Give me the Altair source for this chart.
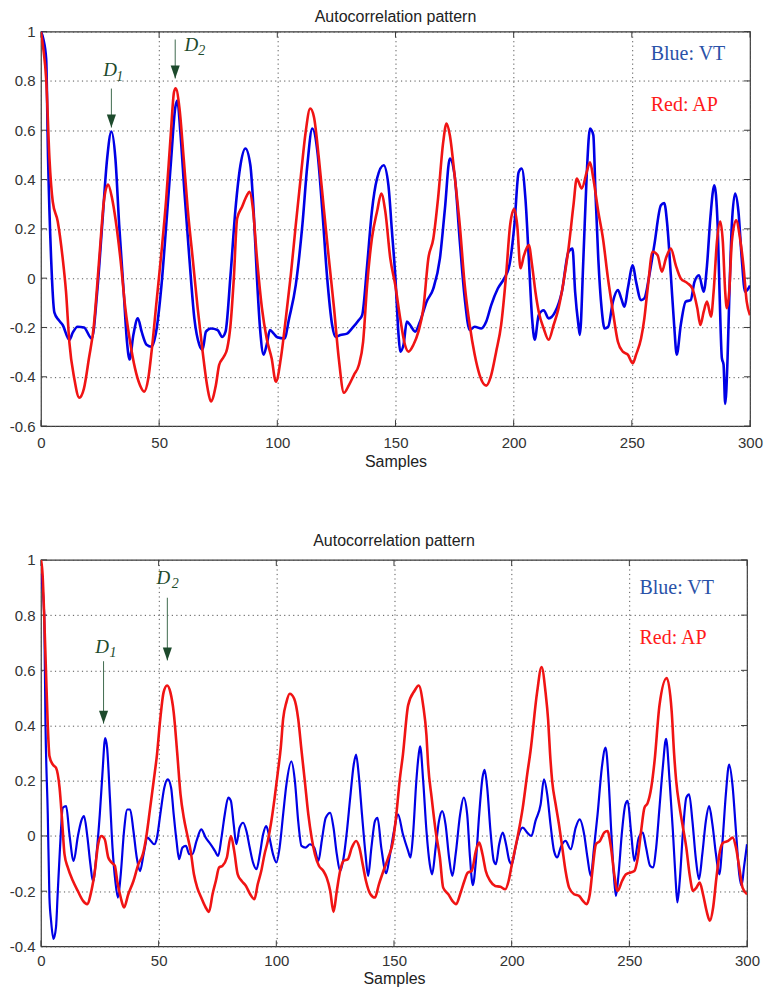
import altair as alt
import pandas as pd

TITLE = "Autocorrelation pattern"
XLABEL = "Samples"
X_TICKS = [0, 50, 100, 150, 200, 250, 300]
TOP_Y_TICKS = [-0.6, -0.4, -0.2, 0, 0.2, 0.4, 0.6, 0.8, 1]
BOT_Y_TICKS = [-0.4, -0.2, 0, 0.2, 0.4, 0.6, 0.8, 1]

# ---------------- top panel: VT (blue) ----------------
top_vt_x = [0, 1, 2.2, 3, 4.3, 5.7, 7.5, 9.2, 12, 13.5, 15.5, 18.2, 21.5, 23.8, 25.9, 28, 29.8, 31.5, 33.1, 35,
            36.4, 37.5, 39.1, 41, 42.6, 44.7, 46.8, 48.5, 51, 53, 55.1, 56.8, 57.7, 59, 60.7, 62.8, 64.9, 67, 68.4,
            69.8, 71.9, 74.7, 76.7, 78.1, 80.2, 82.3, 84.4, 86.5, 88.6, 90, 91.4, 92.8, 94.2, 95.5, 96.9, 98.5, 100,
            103, 105, 107.8, 110.6, 112.7, 114.8, 117, 119, 121, 123.2, 124.6, 126.7, 129.5, 131.6, 134.5, 135.9,
            138, 140, 142.2, 145, 147, 148.5, 149.9, 151.3, 152, 153.4, 154.8, 156.2, 158.3, 160.4, 163.2, 166,
            168.8, 170.9, 173, 175, 177.2, 179.3, 181.4, 183.5, 186.3, 188.4, 190.5, 193.3, 196, 198.2, 200.3,
            202.1, 203.4, 205, 206.4, 207.8, 208.9, 210.6, 212.7, 214.8, 217.6, 220.4, 223.2, 224.9, 226, 227.4,
            228, 229.5, 230.9, 232.3, 233.7, 234.6, 235.8, 237.2, 238.5, 240, 242, 244.1, 245.5, 246.9, 248.3,
            250.4, 251.8, 253.9, 255.3, 257.4, 259.5, 262.3, 263.7, 265, 266.5, 267.9, 269, 270.7, 272.8, 274.9,
            276.5, 278.4, 280.4, 281.8, 283.2, 284.9, 286.3, 287.1, 288.1, 288.8, 289.5, 290.5, 291.3, 292.3,
            293.7, 295.1, 296.5, 297.9, 299.3, 300]
top_vt_y = [1.0, 0.97, 0.89, 0.49, 0.08, -0.14, -0.17, -0.19, -0.25, -0.22, -0.197, -0.2, -0.245, -0.055, 0.215,
            0.485, 0.595, 0.485, 0.215, -0.055, -0.258, -0.33, -0.23, -0.163, -0.217, -0.27, -0.278, -0.23, -0.028,
            0.215, 0.485, 0.69, 0.72, 0.59, 0.35, 0.08, -0.163, -0.27, -0.29, -0.217, -0.204, -0.21, -0.238, -0.217,
            0.012, 0.28, 0.458, 0.526, 0.458, 0.27, -0.001, -0.217, -0.31, -0.27, -0.21, -0.225, -0.24, -0.245,
            -0.163, -0.028, 0.215, 0.458, 0.607, 0.51, 0.28, 0.012, -0.19, -0.238, -0.231, -0.225, -0.204, -0.17,
            -0.15, 0.052, 0.27, 0.404, 0.458, 0.377, 0.19, 0.012, -0.231, -0.298, -0.27, -0.176, -0.19, -0.217,
            -0.176, -0.095, -0.042, 0.08, 0.28, 0.485, 0.418, 0.15, -0.082, -0.21, -0.197, -0.204, -0.176, -0.109,
            -0.042, -0.001, 0.052, 0.215, 0.43, 0.445, 0.32, 0.08, -0.163, -0.25, -0.15, -0.13, -0.163, -0.136,
            -0.055, 0.107, 0.12, -0.055, -0.19, -0.23, 0.08, 0.418, 0.607, 0.58, 0.35, 0.08, -0.122, -0.204, -0.197,
            -0.095, -0.048, -0.082, -0.116, -0.042, 0.052, -0.015, -0.089, -0.082, 0.012, 0.134, 0.296, 0.305,
            0.215, 0.012, -0.19, -0.31, -0.19, -0.095, -0.089, -0.015, 0.012, -0.055, 0.052, 0.242, 0.377, 0.215,
            -0.055, -0.325, -0.35, -0.51, -0.325, -0.055, 0.215, 0.343, 0.27, 0.08, -0.055, -0.042, -0.03]

# ---------------- top panel: AP (red) ----------------
top_ap_x = [0, 1, 2.2, 3.6, 5, 7.1, 9.2, 10.6, 12, 14.1, 16.2, 18.2, 20.3, 22.4, 23.8, 25.2, 26.6, 28.4, 30.1,
            31.5, 33.6, 35.7, 37.7, 39.8, 41.9, 43.7, 45.4, 46.8, 48.9, 51, 53, 54.9, 56.3, 57, 58.6, 60.4, 62.1,
            64.2, 66.3, 68.4, 70.5, 71.9, 74, 75.4, 77.4, 78.8, 80.2, 81.6, 83, 85.1, 87.2, 88.2, 89.7, 91.4, 93.5,
            95.5, 97.6, 99.4, 101.5, 103.6, 105.7, 107.8, 110, 112, 113.9, 115.5, 117.6, 119.7, 121.8, 124, 126,
            128.2, 130.3, 132.4, 134.5, 136.3, 138, 140, 142.2, 144, 145.7, 147.8, 149.9, 152, 154, 155.5, 157.6,
            159.7, 161.8, 163.9, 166, 168, 170.2, 171.6, 173, 175, 177.2, 179.3, 181.4, 183.5, 185.6, 188.4, 190.5,
            192.6, 194.7, 196.8, 198.5, 200.2, 201.5, 202.9, 204.3, 206.4, 207.8, 209.2, 210.6, 212.7, 214.8,
            216.9, 219, 221.1, 223.2, 225.3, 226.7, 228.8, 230.9, 232.3, 233.7, 235.8, 237.8, 239.9, 242, 244.1,
            246.2, 248.3, 250.4, 251.8, 253.9, 255.3, 256.7, 258.8, 260.9, 262.7, 264.4, 266.5, 268.6, 270.7,
            273.5, 275.6, 277.7, 279, 280.4, 281.8, 283.5, 284.6, 286, 287.4, 288.5, 289.5, 290.2, 291.2, 292.3,
            294.1, 295.8, 297.2, 298.6, 300]
top_ap_y = [1.0, 0.93, 0.81, 0.485, 0.31, 0.23, 0.08, -0.055, -0.258, -0.407, -0.485, -0.447, -0.325, -0.19,
            -0.028, 0.147, 0.31, 0.38, 0.323, 0.242, 0.08, -0.122, -0.258, -0.366, -0.434, -0.46, -0.407, -0.298,
            -0.095, 0.107, 0.323, 0.58, 0.755, 0.77, 0.69, 0.485, 0.28, 0.08, -0.122, -0.298, -0.447, -0.5,
            -0.434, -0.352, -0.318, -0.285, -0.19, -0.001, 0.242, 0.29, 0.337, 0.35, 0.28, 0.08, -0.122, -0.245,
            -0.325, -0.42, -0.325, -0.163, 0.012, 0.215, 0.418, 0.593, 0.688, 0.654, 0.485, 0.28, 0.08, -0.122,
            -0.325, -0.465, -0.434, -0.393, -0.352, -0.258, -0.028, 0.16, 0.27, 0.343, 0.27, 0.08, -0.028, -0.163,
            -0.27, -0.298, -0.27, -0.217, -0.122, 0.08, 0.16, 0.323, 0.553, 0.627, 0.58, 0.418, 0.215, -0.028,
            -0.19, -0.31, -0.393, -0.436, -0.393, -0.298, -0.19, 0.012, 0.215, 0.28, 0.215, 0.04, 0.09, 0.134,
            0.052, -0.055, -0.136, -0.204, -0.25, -0.19, -0.122, -0.015, 0.12, 0.296, 0.404, 0.364, 0.43, 0.47,
            0.404, 0.27, 0.16, -0.001, -0.136, -0.258, -0.298, -0.31, -0.345, -0.31, -0.245, -0.163, -0.042,
            0.107, 0.093, 0.026, 0.08, 0.12, 0.052, -0.001, -0.02, -0.042, -0.122, -0.19, -0.136, -0.095, -0.156,
            -0.055, 0.147, 0.23, 0.147, -0.055, -0.122, -0.055, 0.147, 0.235, 0.16, 0.052, -0.095, -0.15]

# ---------------- bottom panel: VT (blue) ----------------
bot_vt_x = [0, 1.4, 1.9, 2.9, 3.6, 4.3, 5.3, 6.4, 7.1, 8.1, 9.3, 10.7, 12.1, 13.9, 15.7, 17.1, 18.3, 19.6, 21,
            22.1, 23.6, 25, 26.1, 27.3, 28.1, 29.3, 30.4, 31.6, 32.7, 33.9, 35.3, 36.7, 37.9, 39.3, 40.7, 42.1,
            43.6, 45.3, 46.7, 48.1, 49.3, 50.7, 52.4, 53.9, 55.3, 56.4, 57.6, 58.7, 60.1, 61.6, 63, 64.3, 66.1,
            68.1, 70, 72.1, 73.9, 75.3, 76.7, 78.1, 79.6, 80.7, 81.9, 83, 84.4, 85.9, 87.3, 88.7, 90.1, 91.6, 93,
            94.4, 95.7, 97.1, 98.6, 100, 101.4, 102.9, 104.3, 106.4, 107.9, 109.3, 110.7, 112.4, 114.3, 116.1,
            117.9, 119.3, 121, 122.9, 124.3, 125.7, 127.1, 128.6, 130, 131.4, 132.9, 133.9, 135, 136.4, 137.9,
            139, 140.4, 141.9, 143, 144.6, 146.7, 148.1, 150, 151.7, 153.8, 156, 157, 158.1, 159.5, 160.5, 161.1,
            162.4, 163.8, 165.2, 166.2, 167.7, 169.1, 170.5, 171.9, 173.4, 174.8, 176.2, 178.1, 179.6, 181.1,
            182.3, 183.5, 184.8, 186.2, 187.6, 188.5, 189.6, 191, 192.4, 193.3, 194.7, 196.2, 197.6, 199, 200.1,
            201.6, 203, 204.7, 206.6, 208.4, 210.1, 212.3, 213.7, 215.1, 216.5, 218, 219.4, 220.8, 222.9, 225.1,
            227.2, 228.9, 230.8, 232.2, 233.6, 235, 236.5, 238.3, 239.9, 241.2, 242.3, 243.4, 244.3, 245.4,
            246.9, 248.3, 249.3, 250.7, 252.1, 254, 255.7, 257.1, 258.8, 260, 261.4, 262.8, 264.2, 265.6, 267.1,
            268.5, 269.7, 270.4, 271.4, 272.8, 274.2, 275.4, 276.8, 278.2, 279.6, 281, 282.5, 283.9, 285.3,
            286.8, 288.2, 289.6, 291, 292.4, 293.8, 295.3, 296.7, 297.7, 298.7, 300]
bot_vt_y = [0.95, 0.8, 0.42, 0.078, -0.223, -0.307, -0.373, -0.33, -0.21, -0.042, 0.102, 0.108, 0.006, -0.09, 0.0,
            0.054, 0.072, 0.006, -0.102, -0.165, -0.066, 0.078, 0.223, 0.355, 0.32, 0.139, -0.042, -0.163, -0.223,
            -0.139, 0.018, 0.096, 0.096, 0.018, -0.078, -0.127, -0.066, -0.006, -0.018, -0.03, -0.006, 0.078,
            0.175, 0.205, 0.175, 0.078, -0.018, -0.084, -0.042, -0.036, -0.066, -0.066, -0.018, 0.024, -0.006,
            -0.03, -0.054, -0.072, -0.006, 0.078, 0.139, 0.127, 0.042, -0.03, 0.03, 0.048, 0.018, -0.042, -0.096,
            -0.12, -0.066, 0.006, 0.036, -0.006, -0.066, -0.096, -0.042, 0.078, 0.187, 0.27, 0.199, 0.054, -0.036,
            -0.042, -0.03, -0.042, -0.09, -0.018, 0.066, 0.084, 0.03, -0.066, -0.127, -0.078, 0.018, 0.139, 0.259,
            0.295, 0.223, 0.078, -0.066, -0.145, -0.042, 0.054, 0.066, -0.042, -0.135, -0.078, 0.018, 0.078,
            0.006, -0.054, -0.078, 0.006, 0.2, 0.295, 0.325, 0.2, 0.018, -0.102, -0.139, -0.042, 0.054, 0.09,
            0.042, -0.078, -0.145, -0.066, 0.078, 0.139, 0.078, -0.078, -0.178, -0.09, 0.078, 0.211, 0.24, 0.175,
            0.018, -0.09, -0.102, -0.03, 0.012, -0.03, -0.09, -0.102, -0.042, 0.006, 0.03, 0.012, 0.0, 0.054,
            0.114, 0.205, 0.151, 0.042, -0.054, -0.078, -0.042, -0.018, -0.048, 0.03, 0.06, 0.006, -0.078,
            -0.145, -0.042, 0.078, 0.247, 0.32, 0.2, 0.018, -0.139, -0.217, -0.139, 0.018, 0.114, 0.127, 0.018,
            -0.09, -0.006, 0.012, -0.042, -0.108, -0.114, -0.042, 0.102, 0.247, 0.352, 0.2, 0.018, -0.163, -0.241,
            -0.163, 0.018, 0.139, 0.151, 0.054, -0.078, -0.157, -0.066, 0.054, 0.108, 0.042, -0.066, -0.139,
            -0.018, 0.151, 0.259, 0.187, 0.018, -0.139, -0.18, -0.114, -0.03]

# ---------------- bottom panel: AP (red) ----------------
bot_ap_x = [0, 0.7, 1.4, 2.1, 2.9, 3.6, 5, 6.4, 7.9, 9, 10, 11.4, 13.6, 15.7, 17.9, 19.6, 21.4, 22.9, 24.3,
            25.7, 27.1, 28.6, 30, 31.4, 32.4, 33.9, 35.3, 37.1, 39.3, 41.4, 43.3, 44.7, 46.4, 47.9, 49.3, 50.7,
            52.1, 53.6, 55, 56.4, 57.9, 59.3, 60.7, 62.1, 63.6, 65, 66.4, 68.1, 70, 71.4, 72.9, 74.3, 75.7, 77.1,
            79, 80.7, 82.1, 83.6, 85.3, 87.1, 88.9, 90.7, 92.1, 93.6, 95, 96.4, 97.9, 99.3, 100.7, 101.9, 102.9,
            104.3, 105.7, 107.6, 109.3, 110.7, 112.1, 113.6, 115, 116.4, 118.1, 120, 121.4, 122.9, 124.3, 125.7,
            127.1, 128.6, 130.4, 132.1, 133.9, 135.3, 136.7, 138.1, 140, 141.9, 143.6, 145.5, 147.5, 149.6, 151,
            152.4, 153.8, 156, 158.8, 160.5, 162.4, 163.8, 164.5, 166, 167.7, 169.5, 170.9, 173.1, 174.8, 176.4,
            178.1, 179.9, 181.3, 183, 184.8, 186.2, 187.6, 189, 190.9, 193, 195.2, 197.3, 198.7, 200.1, 201.6,
            203, 204.7, 206.6, 208, 210.8, 212.7, 214.4, 215.5, 216.3, 217.2, 218.7, 220.1, 221.5, 222.9, 224.4,
            226.5, 228.6, 230.3, 231.8, 233.2, 234.3, 235.8, 237.5, 239.3, 240.7, 242.2, 243.6, 245, 246.9, 248.6,
            250.3, 252.1, 253.6, 255, 256.4, 257.8, 259.3, 260.7, 262.8, 265.9, 268, 269, 269.9, 271.4, 272.8,
            274.2, 275.6, 277.1, 278.5, 279.9, 281.3, 282.8, 284.2, 285.6, 287, 288.5, 289.9, 292, 293.9, 295.3,
            296.7, 298.1, 300]
bot_ap_y = [1.0, 0.945, 0.79, 0.606, 0.4, 0.29, 0.259, 0.247, 0.175, 0.054, -0.066, -0.114, -0.163, -0.2, -0.235,
            -0.247, -0.2, -0.127, -0.03, 0.0, -0.012, -0.078, -0.096, -0.108, -0.163, -0.223, -0.259, -0.211,
            -0.163, -0.102, -0.066, -0.006, 0.102, 0.2, 0.295, 0.424, 0.52, 0.545, 0.52, 0.448, 0.3, 0.151, 0.066,
            0.006, -0.054, -0.139, -0.187, -0.223, -0.259, -0.275, -0.211, -0.163, -0.114, -0.108, -0.078, 0.0,
            -0.054, -0.139, -0.163, -0.181, -0.211, -0.229, -0.175, -0.127, -0.066, -0.018, 0.054, 0.139, 0.235,
            0.32, 0.424, 0.485, 0.515, 0.497, 0.424, 0.31, 0.2, 0.078, -0.006, -0.066, -0.108, -0.127, -0.151,
            -0.199, -0.275, -0.199, -0.127, -0.09, -0.084, -0.042, -0.018, -0.042, -0.102, -0.163, -0.211, -0.223,
            -0.175, -0.127, -0.08, -0.018, 0.078, 0.2, 0.295, 0.473, 0.527, 0.545, 0.473, 0.364, 0.259, 0.139,
            0.018, -0.078, -0.187, -0.211, -0.235, -0.247, -0.211, -0.163, -0.133, -0.127, -0.054, -0.024, -0.066,
            -0.127, -0.163, -0.181, -0.184, -0.193, -0.163, -0.102, -0.042, 0.018, 0.102, 0.223, 0.307, 0.52,
            0.612, 0.52, 0.42, 0.3, 0.2, 0.114, 0.042, -0.042, -0.127, -0.187, -0.211, -0.217, -0.235, -0.247,
            -0.211, -0.127, -0.03, -0.018, 0.012, 0.018, -0.042, -0.139, -0.199, -0.163, -0.139, -0.133, -0.127,
            -0.078, 0.018, 0.102, 0.12, 0.175, 0.27, 0.473, 0.572, 0.45, 0.3, 0.2, 0.102, 0.03, -0.042, -0.139,
            -0.199, -0.187, -0.169, -0.211, -0.271, -0.307, -0.259, -0.151, -0.054, -0.024, -0.018, -0.006,
            -0.042, -0.114, -0.187, -0.211]

# ---------------- annotations (data coordinates) ----------------
LEGEND_TEXT = ["Blue: VT", "Red: AP"]
TOP_LEGEND_X = [258, 258]
TOP_LEGEND_Y = [0.884, 0.68]
BOT_LEGEND_X = [254.3, 254.3]
BOT_LEGEND_Y = [0.877, 0.696]

D_MAIN = ["D", "D"]
D_SUB = ["1", "2"]
TOP_D_X = [26.4, 60.7]
TOP_D_Y = [0.818, 0.92]
TOP_SUB_X = [31.9, 66.6]
TOP_SUB_Y = [0.801, 0.905]
TOP_ARROW_X = [29.8, 56.8]
TOP_ARROW_TOP = [0.769, 0.968]
TOP_ARROW_TIP = [0.611, 0.81]

BOT_D_X = [23.1, 49.1]
BOT_D_Y = [0.664, 0.911]
BOT_SUB_X = [29.1, 55.6]
BOT_SUB_Y = [0.65, 0.899]
BOT_ARROW_X = [26.6, 53.7]
BOT_ARROW_TOP = [0.633, 0.863]
BOT_ARROW_TIP = [0.407, 0.636]

BLUE = "#0000e6"
RED = "#f01414"
BLUE_TXT = "#2a52a8"
RED_TXT = "#ff1a1a"
GREEN = "#1d4a2c"
ARROW_LINE = "#3f6a4e"
FRAME = "#3a3a3a"
SANS = "Liberation Sans"
SERIF = "Liberation Serif"


def panel(vt_x, vt_y, ap_x, ap_y, y_domain, y_ticks, w, h, xlab_pad, xtitle_pad, title_gap,
          vt_width, ap_width, lg_x, lg_y, d_x, d_y, s_x, s_y, a_x, a_top, a_tip):
    xs = alt.Scale(domain=[0, 300], nice=False, zero=False)
    ys = alt.Scale(domain=y_domain, nice=False, zero=False)
    xaxis = alt.Axis(values=X_TICKS, title=XLABEL, grid=True, ticks=False, domain=False,
                     labelPadding=xlab_pad, titlePadding=xtitle_pad, labelFlush=False)
    yaxis = alt.Axis(values=y_ticks, title=None, grid=True, ticks=False, domain=False,
                     labelPadding=6, labelFlush=False,
                     labelExpr="'' + round(datum.value * 10) / 10")

    def X(f="x"):
        return alt.X(f"{f}:Q", scale=xs, axis=xaxis)

    def Y(f="y"):
        return alt.Y(f"{f}:Q", scale=ys, axis=yaxis)

    vt_df = pd.DataFrame({"x": vt_x, "y": vt_y})
    ap_df = pd.DataFrame({"x": ap_x, "y": ap_y})
    vt_line = alt.Chart(vt_df).mark_line(color=BLUE, strokeWidth=vt_width, clip=True,
                                         interpolate="monotone").encode(x=X(), y=Y())
    ap_line = alt.Chart(ap_df).mark_line(color=RED, strokeWidth=ap_width, clip=True,
                                         interpolate="monotone").encode(x=X(), y=Y())

    xt = pd.DataFrame({"x": X_TICKS})
    yt = pd.DataFrame({"y": y_ticks})
    tick_top = alt.Chart(xt).mark_rule(color=FRAME, strokeWidth=1).encode(
        x=X(), y=alt.value(0), y2=alt.value(6))
    tick_bot = alt.Chart(xt).mark_rule(color=FRAME, strokeWidth=1).encode(
        x=X(), y=alt.value(h - 6), y2=alt.value(h))
    tick_left = alt.Chart(yt).mark_rule(color=FRAME, strokeWidth=1).encode(
        y=Y(), x=alt.value(0), x2=alt.value(6))
    tick_right = alt.Chart(yt).mark_rule(color=FRAME, strokeWidth=1).encode(
        y=Y(), x=alt.value(w - 6), x2=alt.value(w))

    title_df = pd.DataFrame({"t": [TITLE]})
    title_txt = alt.Chart(title_df).mark_text(
        align="center", baseline="alphabetic", font=SANS, fontSize=16, color="#222222").encode(
        x=alt.value(w / 2), y=alt.value(-title_gap), text="t:N")

    lg_df = pd.DataFrame({"x": lg_x, "y": lg_y, "t": LEGEND_TEXT, "c": [BLUE_TXT, RED_TXT]})
    legend_txt = alt.Chart(lg_df).mark_text(
        align="left", baseline="alphabetic", font=SERIF, fontSize=20).encode(
        x=X(), y=Y(), text="t:N", color=alt.Color("c:N", scale=None))

    d_df = pd.DataFrame({"x": d_x, "y": d_y, "t": D_MAIN})
    s_df = pd.DataFrame({"x": s_x, "y": s_y, "t": D_SUB})
    d_txt = alt.Chart(d_df).mark_text(
        align="left", baseline="alphabetic", font=SERIF, fontSize=19, fontStyle="italic",
        color=GREEN).encode(x=X(), y=Y(), text="t:N")
    s_txt = alt.Chart(s_df).mark_text(
        align="left", baseline="alphabetic", font=SERIF, fontSize=14, fontStyle="italic",
        color=GREEN).encode(x=X(), y=Y(), text="t:N")

    a_df = pd.DataFrame({"x": a_x, "ytop": a_top, "ytip": a_tip})
    a_line = alt.Chart(a_df).mark_rule(color=ARROW_LINE, strokeWidth=1).encode(
        x=X(), y=Y("ytop"), y2=alt.Y2("ytip:Q"))
    a_head = alt.Chart(a_df).mark_point(
        shape="M-0.7,-2L0.7,-2L0,0Z", size=169, filled=True, color=GREEN, opacity=1,
        strokeWidth=0).encode(x=X(), y=Y("ytip"))

    return alt.layer(
        tick_top, tick_bot, tick_left, tick_right,
        vt_line, ap_line, legend_txt, d_txt, s_txt, a_line, a_head, title_txt
    ).properties(width=w, height=h)


top = panel(top_vt_x, top_vt_y, top_ap_x, top_ap_y, [-0.6, 1], TOP_Y_TICKS, 710, 395, 9, 3, 10,
            2.6, 2.6, TOP_LEGEND_X, TOP_LEGEND_Y, TOP_D_X, TOP_D_Y, TOP_SUB_X, TOP_SUB_Y,
            TOP_ARROW_X, TOP_ARROW_TOP, TOP_ARROW_TIP)
bottom = panel(bot_vt_x, bot_vt_y, bot_ap_x, bot_ap_y, [-0.4, 1], BOT_Y_TICKS, 707, 387, 7, 2, 14,
               2.2, 2.6, BOT_LEGEND_X, BOT_LEGEND_Y, BOT_D_X, BOT_D_Y, BOT_SUB_X, BOT_SUB_Y,
               BOT_ARROW_X, BOT_ARROW_TOP, BOT_ARROW_TIP)

chart = alt.vconcat(top, bottom, spacing=62).properties(
    padding={"left": 0, "right": 0, "top": -1, "bottom": 0},
    background="white",
).configure_view(
    stroke=FRAME, strokeWidth=1.2
).configure_axis(
    labelFont=SANS, labelFontSize=15, labelColor="#333333",
    titleFont=SANS, titleFontSize=16, titleFontWeight="normal", titleColor="#222222",
    gridColor="#555555", gridDash=[1.2, 3.3], gridWidth=1, gridOpacity=1,
)

chart.save("out.html", embed_options={"renderer": "svg", "actions": False})
